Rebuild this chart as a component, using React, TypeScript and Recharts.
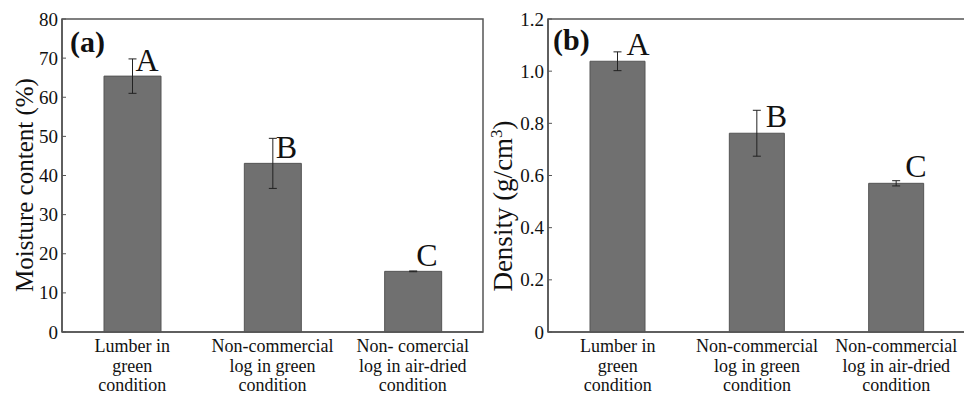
import { BarChart, Bar, XAxis, YAxis, ErrorBar, LabelList, ReferenceArea, Label } from "recharts";

const FONT = "'Liberation Serif', 'Times New Roman', serif";

const moistureCategories = [
  "Lumber in\ngreen\ncondition",
  "Non-commercial\nlog in green\ncondition",
  "Non- comercial\nlog in air-dried\ncondition",
];
const densityCategories = [
  "Lumber in\ngreen\ncondition",
  "Non-commercial\nlog in green\ncondition",
  "Non-commercial\nlog in air-dried\ncondition",
];
const moisture = [65.4, 43.1, 15.5];
const moistureErr = [4.4, 6.4, 0.1];
const density = [1.038, 0.762, 0.57];
const densityErr = [0.036, 0.088, 0.01];
const groupLetters = ["A", "B", "C"];
const moistureTicks = [0, 10, 20, 30, 40, 50, 60, 70, 80];
const densityTicks = [0, 0.2, 0.4, 0.6, 0.8, 1.0, 1.2];

const moistureData = moistureCategories.map((name, i) => ({
  name,
  value: moisture[i],
  err: moistureErr[i],
  letter: groupLetters[i],
}));
const densityData = densityCategories.map((name, i) => ({
  name,
  value: density[i],
  err: densityErr[i],
  letter: groupLetters[i],
}));

function CategoryTick({ x, y, payload }: any) {
  const lines = String(payload.value).split("\n");
  return (
    <text x={x} y={y} textAnchor="middle" fontFamily={FONT} fontSize={18} fill="#111">
      {lines.map((line, i) => (
        <tspan key={i} x={x} dy={i === 0 ? 20 : 19.5}>
          {line}
        </tspan>
      ))}
    </text>
  );
}

function ValueTick({ x, y, payload, tickFormatter }: any) {
  const txt = tickFormatter ? tickFormatter(payload.value) : String(payload.value);
  return (
    <text x={x} y={y} dy={6.5} textAnchor="end" fontFamily={FONT} fontSize={19} fill="#111">
      {txt}
    </text>
  );
}

const letterLabel = (dx: number, dy: number) => (props: any) => {
  const { x, y, width, value } = props;
  return (
    <text x={x + width / 2 + dx} y={y + dy} fontFamily={FONT} fontSize={32} fill="#111">
      {value}
    </text>
  );
};

const panelTag = (tag: string, dx: number, dy: number) => (props: any) => {
  const { viewBox } = props;
  return (
    <text x={viewBox.x + dx} y={viewBox.y + dy} fontFamily={FONT} fontSize={30} fontWeight="bold" fill="#111">
      {tag}
    </text>
  );
};

const axisColor = "#555";

function MoisturePanel() {
  return (
    <BarChart
      width={490}
      height={395}
      data={moistureData}
      margin={{ top: 19, right: 7, bottom: 0, left: 0 }}
      barSize={57}
    >
      <XAxis
        dataKey="name"
        height={63}
        tickLine={false}
        tickSize={0}
        tickMargin={0}
        interval={0}
        axisLine={{ stroke: axisColor, strokeWidth: 1.5 }}
        tick={<CategoryTick />}
      />
      <YAxis
        width={62}
        domain={[0, 80]}
        ticks={moistureTicks}
        tickSize={-4}
        tickMargin={8}
        tickLine={{ stroke: axisColor }}
        axisLine={{ stroke: axisColor, strokeWidth: 1.5 }}
        tick={<ValueTick />}
        label={
          <Label
            content={() => (
              <text
                transform="translate(33,185) rotate(-90)"
                textAnchor="middle"
                fontFamily={FONT}
                fontSize={25}
                fill="#111"
              >
                Moisture content (%)
              </text>
            )}
          />
        }
      />
      <ReferenceArea y1={0} y2={80} fill="none" stroke={axisColor} strokeWidth={1.5} ifOverflow="visible">
        <Label content={panelTag("(a)", 8, 33)} />
      </ReferenceArea>
      <Bar dataKey="value" fill="#707070" stroke="#555" strokeWidth={1} isAnimationActive={false}>
        <ErrorBar dataKey="err" width={4} stroke="#222" strokeWidth={1} direction="y" />
        <LabelList dataKey="letter" content={letterLabel(3, -5)} />
      </Bar>
    </BarChart>
  );
}

function DensityPanel() {
  return (
    <BarChart
      width={490}
      height={395}
      data={densityData}
      margin={{ top: 19, right: 4, bottom: 0, left: 0 }}
      barSize={55}
    >
      <XAxis
        dataKey="name"
        height={63}
        tickLine={false}
        tickSize={0}
        tickMargin={0}
        interval={0}
        axisLine={{ stroke: axisColor, strokeWidth: 1.5 }}
        tick={<CategoryTick />}
      />
      <YAxis
        width={68}
        domain={[0, 1.2]}
        ticks={densityTicks}
        tickSize={-4}
        tickMargin={8}
        tickLine={{ stroke: axisColor }}
        axisLine={{ stroke: axisColor, strokeWidth: 1.5 }}
        tick={<ValueTick />}
        tickFormatter={(v: number) => (v === 0 ? "0" : v.toFixed(1))}
        label={
          <Label
            content={() => (
              <text
                transform="translate(32,206) rotate(-90)"
                textAnchor="middle"
                fontFamily={FONT}
                fontSize={27}
                fill="#111"
              >
                Density (g/cm
                <tspan dy={-10} fontSize={17}>3</tspan>
                <tspan dy={10}>)</tspan>
              </text>
            )}
          />
        }
      />
      <ReferenceArea y1={0} y2={1.2} fill="none" stroke={axisColor} strokeWidth={1.5} ifOverflow="visible">
        <Label content={panelTag("(b)", 5, 31)} />
      </ReferenceArea>
      <Bar dataKey="value" fill="#707070" stroke="#555" strokeWidth={1} isAnimationActive={false}>
        <ErrorBar dataKey="err" width={4} stroke="#222" strokeWidth={1} direction="y" />
        <LabelList dataKey="letter" content={letterLabel(9, -6)} />
      </Bar>
    </BarChart>
  );
}

export default function App() {
  return (
    <div
      style={{
        position: "absolute",
        left: 0,
        top: 0,
        width: 964,
        height: 395,
        overflow: "hidden",
        background: "#fff",
      }}
    >
      <div style={{ position: "absolute", left: 0, top: 0 }}>
        <MoisturePanel />
      </div>
      <div style={{ position: "absolute", left: 480, top: 0 }}>
        <DensityPanel />
      </div>
    </div>
  );
}
